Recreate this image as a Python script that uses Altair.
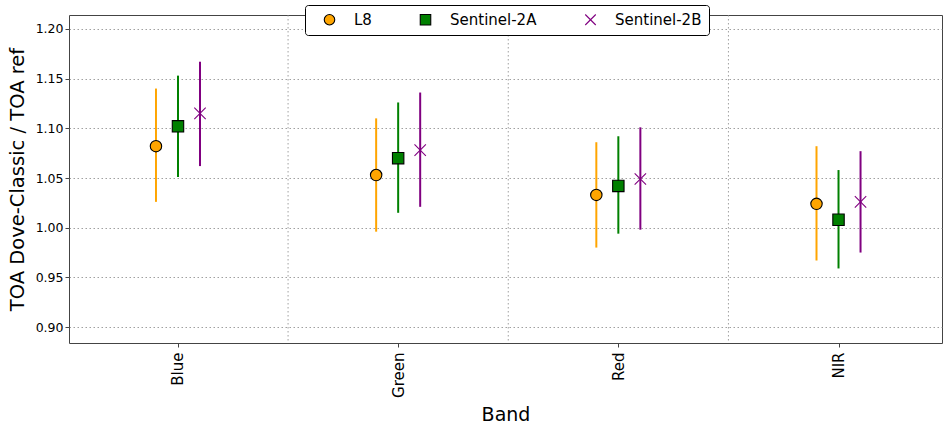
import altair as alt
import pandas as pd

bands = ["Blue", "Green", "Red", "NIR"]
series = ["L8", "Sentinel-2A", "Sentinel-2B"]

l8_mean = [1.082, 1.053, 1.033, 1.024]
l8_lo = [1.026, 0.996, 0.980, 0.967]
l8_hi = [1.140, 1.110, 1.086, 1.082]

s2a_mean = [1.102, 1.070, 1.042, 1.008]
s2a_lo = [1.051, 1.015, 0.994, 0.959]
s2a_hi = [1.153, 1.126, 1.092, 1.058]

s2b_mean = [1.115, 1.078, 1.049, 1.026]
s2b_lo = [1.062, 1.021, 0.998, 0.975]
s2b_hi = [1.167, 1.136, 1.101, 1.077]

boundaries = [0.5, 1.5, 2.5]
y_ticks = [0.90, 0.95, 1.00, 1.05, 1.10, 1.15, 1.20]

colors = ["#FFA500", "#008000", "#800080"]
fills = ["#FFA500", "#008000", "transparent"]
strokes = ["#000000", "#000000", "#800080"]
XSHAPE = "M-1,-1L1,1M-1,1L1,-1"
shapes = ["circle", "square", XSHAPE]
OFFSET = 0.1

rows = []
for si, (s, m, lo, hi) in enumerate(zip(series,
                                        [l8_mean, s2a_mean, s2b_mean],
                                        [l8_lo, s2a_lo, s2b_lo],
                                        [l8_hi, s2a_hi, s2b_hi])):
    for bi, b in enumerate(bands):
        rows.append({"band": b, "series": s, "pos": bi + (si - 1) * OFFSET,
                     "mean": m[bi], "lo": lo[bi], "hi": hi[bi]})
df = pd.DataFrame(rows)

xscale = alt.Scale(domain=[-0.495, 3.47], nice=False, zero=False)
yscale = alt.Scale(domain=[0.884, 1.214], nice=False, zero=False)

label_expr = "[" + ",".join("'%s'" % b for b in bands) + "][datum.value]"

x_axis = alt.Axis(values=[0, 1, 2, 3], labelExpr=label_expr, grid=False,
                  labelAngle=270, labelAlign="right", labelBaseline="middle",
                  labelFontSize=15, labelPadding=5, title="Band",
                  titleFontSize=19, titleFontWeight="normal", titlePadding=8,
                  tickSize=4, domain=False, tickColor="#444",
                  labelColor="#000", titleColor="#000")
y_axis = alt.Axis(values=y_ticks, format=".2f", grid=True, gridColor="#888",
                  gridDash=[1.5, 2.5], gridWidth=0.8, labelFontSize=12.5,
                  labelPadding=2, title="TOA Dove-Classic / TOA ref",
                  titleFontSize=19.5, titleFontWeight="normal", titlePadding=8,
                  tickSize=4, domain=False, tickColor="#444",
                  labelColor="#000", titleColor="#000")

base = alt.Chart(df)

grid_v = alt.Chart(pd.DataFrame({"b": boundaries})).mark_rule(
    color="#888", strokeDash=[1.5, 2.5], strokeWidth=0.8
).encode(x=alt.X("b:Q", scale=xscale, axis=x_axis))

bars = base.mark_rule(strokeWidth=2).encode(
    x=alt.X("pos:Q", scale=xscale, axis=x_axis),
    y=alt.Y("lo:Q", scale=yscale, axis=y_axis),
    y2="hi:Q",
    color=alt.Color("series:N", scale=alt.Scale(domain=series, range=colors),
                    legend=None),
)

pts = base.mark_point(size=130, strokeWidth=1.1, opacity=1).encode(
    x=alt.X("pos:Q", scale=xscale, axis=x_axis),
    y=alt.Y("mean:Q", scale=yscale, axis=y_axis),
    shape=alt.Shape("series:N", scale=alt.Scale(domain=series, range=shapes),
                    legend=alt.Legend(title=None)),
    fill=alt.Fill("series:N", scale=alt.Scale(domain=series, range=fills),
                  legend=alt.Legend(title=None)),
    stroke=alt.Stroke("series:N", scale=alt.Scale(domain=series, range=strokes),
                      legend=alt.Legend(title=None)),
)

chart = alt.layer(grid_v, bars, pts).resolve_scale(color="independent").properties(
    width=873, height=328,
    autosize=alt.AutoSizeParams(type="none"),
    padding={"left": 69, "top": 15, "right": 1, "bottom": 81},
).configure_view(stroke="#444", strokeWidth=1).configure_axis(
    labelFont="DejaVu Sans", titleFont="DejaVu Sans"
).configure_legend(
    orient="none", legendX=236, legendY=-10, direction="horizontal",
    fillColor="white", strokeColor="#000", cornerRadius=3, padding=7,
    labelFont="DejaVu Sans", labelFontSize=15, labelColor="#000",
    symbolSize=110, symbolStrokeWidth=1.1, labelOffset=17, columnPadding=36,
    symbolOffset=10,
)

chart.save("out.html", embed_options={"renderer": "svg", "actions": False})
